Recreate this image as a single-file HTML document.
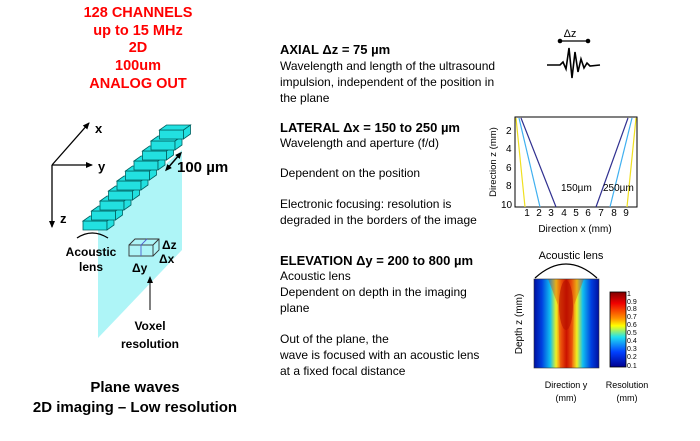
<!DOCTYPE html>
<html><head><meta charset="utf-8"><style>
html,body{margin:0;padding:0;background:#fff;width:700px;height:441px;overflow:hidden}
svg{display:block}
text{font-family:"Liberation Sans",Arial,sans-serif}
</style></head><body>
<svg width="700" height="441" viewBox="0 0 700 441" xmlns="http://www.w3.org/2000/svg">
<defs>
<marker id="ah" markerWidth="8" markerHeight="8" refX="6" refY="4" orient="auto" markerUnits="userSpaceOnUse"><path d="M0,1 L7,4 L0,7 z" fill="#000"/></marker>
<marker id="ahs" markerWidth="8" markerHeight="8" refX="4" refY="4" orient="auto-start-reverse" markerUnits="userSpaceOnUse"><path d="M0,1 L7,4 L0,7 z" fill="#000"/></marker>
<linearGradient id="hm" x1="0" y1="0" x2="1" y2="0">
<stop offset="0" stop-color="#0010a0"/><stop offset="0.12" stop-color="#0040e0"/><stop offset="0.25" stop-color="#10c0f0"/><stop offset="0.34" stop-color="#f0f020"/><stop offset="0.42" stop-color="#f06010"/><stop offset="0.5" stop-color="#c00000"/><stop offset="0.58" stop-color="#f06010"/><stop offset="0.66" stop-color="#f0f020"/><stop offset="0.75" stop-color="#10c0f0"/><stop offset="0.88" stop-color="#0040e0"/><stop offset="1" stop-color="#0010a0"/>
</linearGradient>
<linearGradient id="cb" x1="0" y1="0" x2="0" y2="1">
<stop offset="0" stop-color="#800000"/><stop offset="0.15" stop-color="#f00000"/><stop offset="0.35" stop-color="#ff9000"/><stop offset="0.45" stop-color="#ffff00"/><stop offset="0.6" stop-color="#20e0f0"/><stop offset="0.8" stop-color="#0040ff"/><stop offset="1" stop-color="#000090"/>
</linearGradient>
</defs>

<g fill="#ff0000" font-weight="bold" font-size="14.5" text-anchor="middle">
<text x="138" y="17">128 CHANNELS</text>
<text x="138" y="35">up to 15 MHz</text>
<text x="138" y="52">2D</text>
<text x="138" y="70">100um</text>
<text x="138" y="88">ANALOG OUT</text>
</g>

<polygon points="98,223 182,150 182,250 98,338" fill="#aef5f7"/>

<g stroke="#000" stroke-width="1.3">
<line x1="52" y1="165" x2="89" y2="123" marker-end="url(#ah)"/>
<line x1="52" y1="165" x2="92" y2="165" marker-end="url(#ah)"/>
<line x1="52" y1="165" x2="52" y2="227" marker-end="url(#ah)"/>
</g>
<g font-size="13" font-weight="bold">
<text x="95" y="133">x</text>
<text x="98" y="171">y</text>
<text x="60" y="223">z</text>
</g>

<g fill="#22e0e0" stroke="#006060" stroke-width="0.8">
<g id="el"><polygon points="83,221 107,221 107,230 83,230"/><polygon points="83,221 90,216 114,216 107,221"/><polygon points="107,221 114,216 114,225 107,230"/></g>
<use href="#el" transform="translate(8.5,-10)"/>
<use href="#el" transform="translate(17,-20)"/>
<use href="#el" transform="translate(25.5,-30)"/>
<use href="#el" transform="translate(34,-40)"/>
<use href="#el" transform="translate(42.5,-50)"/>
<use href="#el" transform="translate(51,-60)"/>
<use href="#el" transform="translate(59.5,-70)"/>
<use href="#el" transform="translate(68,-80)"/>
<use href="#el" transform="translate(76.5,-91)"/>
</g>
<line x1="167" y1="169" x2="180" y2="154" stroke="#000" stroke-width="1.5" marker-start="url(#ahs)" marker-end="url(#ahs)"/>
<text x="177" y="172" font-size="15" font-weight="bold">100 µm</text>

<path d="M77,238 Q92,228 108,238" fill="none" stroke="#000" stroke-width="1.3"/>
<g font-size="12" font-weight="bold" text-anchor="middle">
<text x="91" y="256">Acoustic</text>
<text x="91" y="271">lens</text>
</g>
<g fill="none" stroke="#333" stroke-width="0.9">
<rect x="129" y="245" width="24" height="11"/>
<polyline points="129,245 135,239 159,239 159,250 153,256"/>
<line x1="153" y1="245" x2="159" y2="239"/>
<polyline points="141,256 141,245 147,239" stroke="#5060d0"/>
</g>
<g font-size="12" font-weight="bold">
<text x="162" y="249">Δz</text>
<text x="159" y="263">Δx</text>
<text x="132" y="272">Δy</text>
</g>
<line x1="150" y1="310" x2="150" y2="277" stroke="#000" stroke-width="1" marker-end="url(#ah)"/>
<g font-size="12" font-weight="bold" text-anchor="middle">
<text x="150" y="330">Voxel</text>
<text x="150" y="348">resolution</text>
</g>

<g font-size="15" font-weight="bold" text-anchor="middle">
<text x="135" y="392">Plane waves</text>
<text x="135" y="412">2D imaging – Low resolution</text>
</g>

<g font-size="13" font-weight="bold">
<text x="280" y="54">AXIAL Δz = 75 µm</text>
<text x="280" y="132">LATERAL Δx = 150 to 250 µm</text>
<text x="280" y="265">ELEVATION Δy = 200 to 800 µm</text>
</g>
<g font-size="12">
<text x="280" y="70">Wavelength and length of the ultrasound</text>
<text x="280" y="86">impulsion, independent of the position in</text>
<text x="280" y="102">the plane</text>
<text x="280" y="147">Wavelength and aperture (f/d)</text>
<text x="280" y="177">Dependent on the position</text>
<text x="280" y="208">Electronic focusing: resolution is</text>
<text x="280" y="224">degraded in the borders of the image</text>
<text x="280" y="280">Acoustic lens</text>
<text x="280" y="296">Dependent on depth in the imaging</text>
<text x="280" y="312">plane</text>
<text x="280" y="343">Out of the plane, the</text>
<text x="280" y="359">wave is focused with an acoustic lens</text>
<text x="280" y="375">at a fixed focal distance</text>
</g>

<text x="570" y="37" font-size="11" text-anchor="middle">Δz</text>
<line x1="560" y1="41" x2="588" y2="41" stroke="#000" stroke-width="1.2"/>
<circle cx="560" cy="41" r="2.3"/><circle cx="588" cy="41" r="2.3"/>
<path d="M547,65 L560,65 L563,62 L566,69 L569,48 L572,78 L575,52 L578,72 L581,59 L584,68 L587,63 L590,66 L600,65" fill="none" stroke="#000" stroke-width="1.6"/>

<rect x="515" y="117" width="122" height="90" fill="#fff" stroke="#000" stroke-width="1"/>
<g fill="none" stroke-width="1.2">
<line x1="516" y1="118" x2="525" y2="207" stroke="#f0e020"/>
<line x1="519" y1="118" x2="540" y2="207" stroke="#40b0f0"/>
<line x1="521" y1="118" x2="556" y2="207" stroke="#303090"/>
<line x1="628" y1="118" x2="596" y2="207" stroke="#303090"/>
<line x1="632" y1="118" x2="610" y2="207" stroke="#40b0f0"/>
<line x1="636" y1="118" x2="627" y2="207" stroke="#f0e020"/>
</g>
<g font-size="10">
<text x="561" y="191">150µm</text><text x="603" y="191">250µm</text>
<text x="506" y="134">2</text><text x="506" y="152">4</text><text x="506" y="171">6</text><text x="506" y="189">8</text><text x="501" y="208">10</text>
</g>
<g font-size="10" text-anchor="middle">
<text x="527" y="216">1</text><text x="539" y="216">2</text><text x="551" y="216">3</text><text x="564" y="216">4</text><text x="576" y="216">5</text><text x="588" y="216">6</text><text x="601" y="216">7</text><text x="614" y="216">8</text><text x="626" y="216">9</text>
<text x="575" y="232">Direction x (mm)</text>
</g>
<text transform="translate(496,162) rotate(-90)" font-size="9.5" text-anchor="middle">Direction z (mm)</text>

<text x="571" y="259" font-size="11" text-anchor="middle">Acoustic lens</text>
<path d="M535,278 Q566,250 597,278" fill="none" stroke="#000" stroke-width="1.2"/>
<rect x="534" y="279" width="65" height="89" fill="url(#hm)"/>
<ellipse cx="566" cy="305" rx="7" ry="25" fill="#a00000" opacity="0.6"/>
<path d="M548,279 L584,279 L574,305 L572,368 L560,368 L558,305 z" fill="#e03000" opacity="0.35"/>
<rect x="534" y="279" width="65" height="89" fill="none" stroke="#333" stroke-width="0.6"/>
<rect x="610" y="292" width="16" height="75" fill="url(#cb)" stroke="#000" stroke-width="0.8"/>
<g font-size="7">
<text x="627" y="296">1</text><text x="627" y="304">0.9</text><text x="627" y="311">0.8</text><text x="627" y="319">0.7</text><text x="627" y="327">0.6</text><text x="627" y="335">0.5</text><text x="627" y="343">0.4</text><text x="627" y="351">0.3</text><text x="627" y="359">0.2</text><text x="627" y="368">0.1</text>
</g>
<text transform="translate(522,324) rotate(-90)" font-size="10" text-anchor="middle">Depth z  (mm)</text>
<g font-size="9" text-anchor="middle">
<text x="566" y="388">Direction y</text><text x="566" y="401">(mm)</text>
<text x="627" y="388">Resolution</text><text x="627" y="401">(mm)</text>
</g>
</svg>
</body></html>
